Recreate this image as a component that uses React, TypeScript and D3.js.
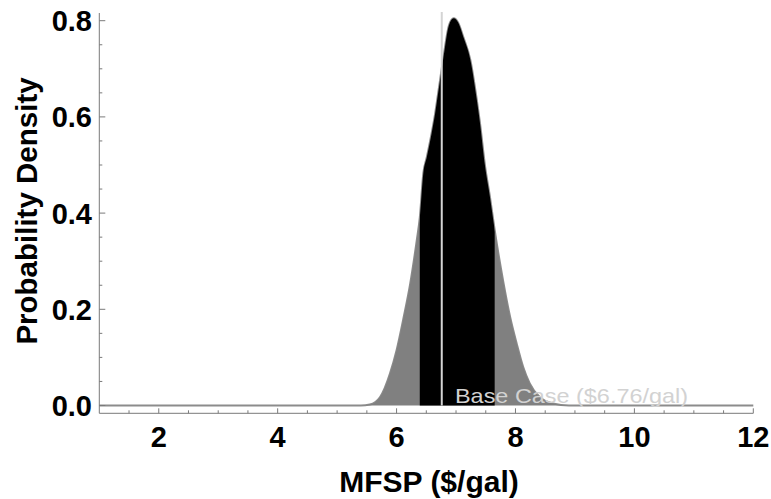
import React, { useEffect, useRef } from 'react';
import * as d3 from 'd3';

// MFSP ($/gal) and probability density
const mfsp = [1, 5.4, 5.55, 5.72, 5.89, 6.0, 6.12, 6.23, 6.34, 6.39, 6.45, 6.51, 6.59, 6.65, 6.7, 6.79, 6.88, 6.96, 7.04, 7.12, 7.24, 7.35, 7.4, 7.49, 7.57, 7.65, 7.8, 7.91, 8.02, 8.13, 8.24, 8.41, 8.63, 8.9, 12];
const density = [0, 0, 0.002, 0.017, 0.067, 0.115, 0.184, 0.254, 0.344, 0.39, 0.483, 0.517, 0.566, 0.608, 0.65, 0.725, 0.79, 0.805, 0.795, 0.767, 0.719, 0.635, 0.59, 0.496, 0.434, 0.365, 0.254, 0.184, 0.129, 0.08, 0.046, 0.017, 0.004, 0, 0];

const band = [6.39, 7.65]; // dark shaded interval
const baseCase = 6.76;
const xTicks = [2, 4, 6, 8, 10, 12];
const yTicks = [0, 0.2, 0.4, 0.6, 0.8];

const App = () => {
    const ref = useRef<SVGSVGElement>(null);

    useEffect(() => {
        const svg = d3.select(ref.current);
        svg.selectAll('*').remove();

        const x = d3.scaleLinear().domain([1, 12]).range([99.3, 753.3]);
        const y = d3.scaleLinear().domain([0, 0.8]).range([405.5, 20.7]);
        const font = '"Liberation Sans", Arial, sans-serif';
        const axisColor = '#7a7a7a';

        const pts = mfsp.map((m, i) => ({ m, d: density[i] }));

        const area = d3.area<{ m: number; d: number }>()
            .x(p => x(p.m))
            .y0(y(0))
            .y1(p => y(p.d))
            .curve(d3.curveMonotoneX);

        const line = d3.line<{ m: number; d: number }>()
            .x(p => x(p.m))
            .y(p => y(p.d))
            .curve(d3.curveMonotoneX);

        svg.append('defs').append('clipPath').attr('id', 'band')
            .append('rect')
            .attr('x', x(band[0]))
            .attr('width', x(band[1]) - x(band[0]))
            .attr('y', 0)
            .attr('height', 499);

        // baseline / curve outline
        svg.append('path').attr('d', line(pts))
            .attr('fill', 'none').attr('stroke', '#8c8c8c').attr('stroke-width', 2);

        svg.append('path').attr('d', area(pts)).attr('fill', '#808080');
        svg.append('path').attr('d', area(pts)).attr('fill', '#000')
            .attr('clip-path', 'url(#band)');

        // base case marker
        svg.append('line')
            .attr('x1', x(baseCase)).attr('x2', x(baseCase))
            .attr('y1', 12).attr('y2', y(0))
            .attr('stroke', '#d4d4d4').attr('stroke-width', 2);

        svg.append('text')
            .attr('x', 455).attr('y', 403.3)
            .attr('font-family', font).attr('font-size', 21)
            .attr('textLength', 233).attr('lengthAdjust', 'spacingAndGlyphs')
            .attr('fill', '#d2d2d2')
            .text(`Base Case ($${baseCase.toFixed(2)}/gal)`);

        // axes
        const yBottom = 413.3;
        const yTop = 13;
        svg.append('line')
            .attr('x1', x(1)).attr('x2', x(1)).attr('y1', yTop).attr('y2', yBottom)
            .attr('stroke', axisColor).attr('stroke-width', 1);
        svg.append('line')
            .attr('x1', x(1)).attr('x2', x(12)).attr('y1', yBottom).attr('y2', yBottom)
            .attr('stroke', axisColor).attr('stroke-width', 1);

        // x ticks, pointing inward
        const xMinor = d3.range(1.5, 12.01, 0.5);
        svg.append('g').selectAll('line').data(xMinor).enter().append('line')
            .attr('x1', d => x(d)).attr('x2', d => x(d))
            .attr('y1', yBottom)
            .attr('y2', d => yBottom - (xTicks.includes(d) ? 5 : 3))
            .attr('stroke', axisColor);

        svg.append('g').selectAll('text').data(xTicks).enter().append('text')
            .attr('x', d => x(d)).attr('y', 446.7)
            .attr('text-anchor', 'middle')
            .attr('font-family', font).attr('font-weight', 'bold').attr('font-size', 29)
            .text(d => d);

        // y ticks
        const yMinor = d3.range(0, 0.801, 0.05);
        svg.append('g').selectAll('line').data(yMinor).enter().append('line')
            .attr('x1', x(1))
            .attr('x2', (d, i) => x(1) + (i % 4 === 0 ? 6 : 3))
            .attr('y1', d => y(d)).attr('y2', d => y(d))
            .attr('stroke', axisColor);

        svg.append('g').selectAll('text').data(yTicks).enter().append('text')
            .attr('x', 92).attr('y', d => y(d))
            .attr('dy', '0.36em')
            .attr('text-anchor', 'end')
            .attr('font-family', font).attr('font-weight', 'bold').attr('font-size', 29)
            .text(d => d.toFixed(1));

        // titles
        svg.append('text')
            .attr('x', 429).attr('y', 491.7)
            .attr('text-anchor', 'middle')
            .attr('font-family', font).attr('font-weight', 'bold').attr('font-size', 30)
            .text('MFSP ($/gal)');

        svg.append('text')
            .attr('transform', 'translate(36.7,211) rotate(-90)')
            .attr('text-anchor', 'middle')
            .attr('font-family', font).attr('font-weight', 'bold').attr('font-size', 29.5)
            .text('Probability Density');
    }, []);

    return (
        <svg ref={ref} width={771} height={499}
            style={{ position: 'absolute', left: 0, top: 0, background: '#fff' }} />
    );
};

export default App;
